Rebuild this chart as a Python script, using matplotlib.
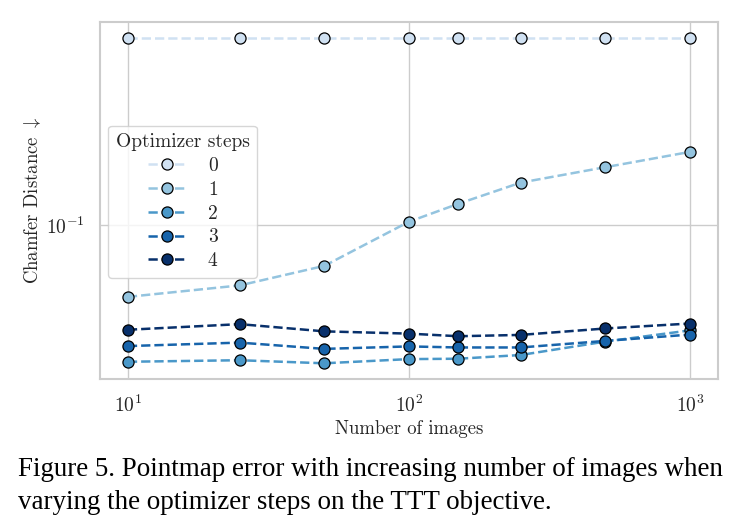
import numpy as np
import matplotlib
matplotlib.use("Agg")
import matplotlib.pyplot as plt
import seaborn as sns

num_images = [10, 25, 50, 100, 150, 250, 500, 1000]
step_labels = ["0", "1", "2", "3", "4"]

# chamfer distance per optimizer step count
cd_step0 = [0.293, 0.293, 0.293, 0.293, 0.293, 0.293, 0.293, 0.293]
cd_step1 = [0.0662, 0.0707, 0.0791, 0.1019, 0.1130, 0.1276, 0.1394, 0.1522]
cd_step2 = [0.0456, 0.0460, 0.0452, 0.0463, 0.0464, 0.0474, 0.0512, 0.0546]
cd_step3 = [0.0499, 0.0509, 0.0491, 0.0498, 0.0495, 0.0495, 0.0514, 0.0533]
cd_step4 = [0.0548, 0.0566, 0.0543, 0.0536, 0.0528, 0.0532, 0.0552, 0.0568]
series = [cd_step0, cd_step1, cd_step2, cd_step3, cd_step4]

sns.set_style("whitegrid")
plt.rcParams["font.family"] = ["cmr10", "DejaVu Serif"]
plt.rcParams["mathtext.fontset"] = "cm"
plt.rcParams["axes.formatter.use_mathtext"] = True

colors = plt.cm.Blues(np.linspace(0.2, 1.0, 5))

fig = plt.figure(figsize=(7.4, 5.32), dpi=100)
ax = fig.add_axes([0.135, 0.2876, 0.835, 0.671])

for vals, lab, c in zip(series, step_labels, colors):
    ax.plot(num_images, vals, linestyle="--", linewidth=1.8, color=c,
            marker="o", markersize=8, markerfacecolor=c,
            markeredgecolor="black", markeredgewidth=0.9, label=lab)

ax.set_xscale("log")
ax.set_yscale("log")
ax.set_xlim(7.95, 1258)
ax.set_ylim(0.0413, 0.321)
ax.minorticks_off()
ax.set_xticks([10, 100, 1000])
ax.set_yticks([0.1])
ax.tick_params(labelsize=14, length=0)
ax.tick_params(axis="x", pad=11)
ax.tick_params(axis="y", pad=11)
ax.grid(True, color="#cccccc", linewidth=1.0)
for s in ax.spines.values():
    s.set_color("#cccccc")
    s.set_linewidth(1.5)

ax.set_xlabel("Number of images", fontsize=13.5, labelpad=3)
ax.set_ylabel(r"Chamfer Distance $\downarrow$", fontsize=13.5, labelpad=2)

leg = ax.legend(title="Optimizer steps", loc="upper left",
                bbox_to_anchor=(0.013, 0.71), borderaxespad=0,
                fontsize=14, title_fontsize=14, frameon=True,
                labelspacing=0.3, handletextpad=1.1,
                handlelength=2.0, borderpad=0.4)
leg.get_frame().set_edgecolor("#cccccc")

fig.text(0.024, 0.118, "Figure 5. Pointmap error with increasing number of images when",
         fontsize=19.45, family="Liberation Serif", va="center", color="black")
fig.text(0.024, 0.056, "varying the optimizer steps on the TTT objective.",
         fontsize=19.45, family="Liberation Serif", va="center", color="black")

fig.savefig("out.png", dpi=100)
